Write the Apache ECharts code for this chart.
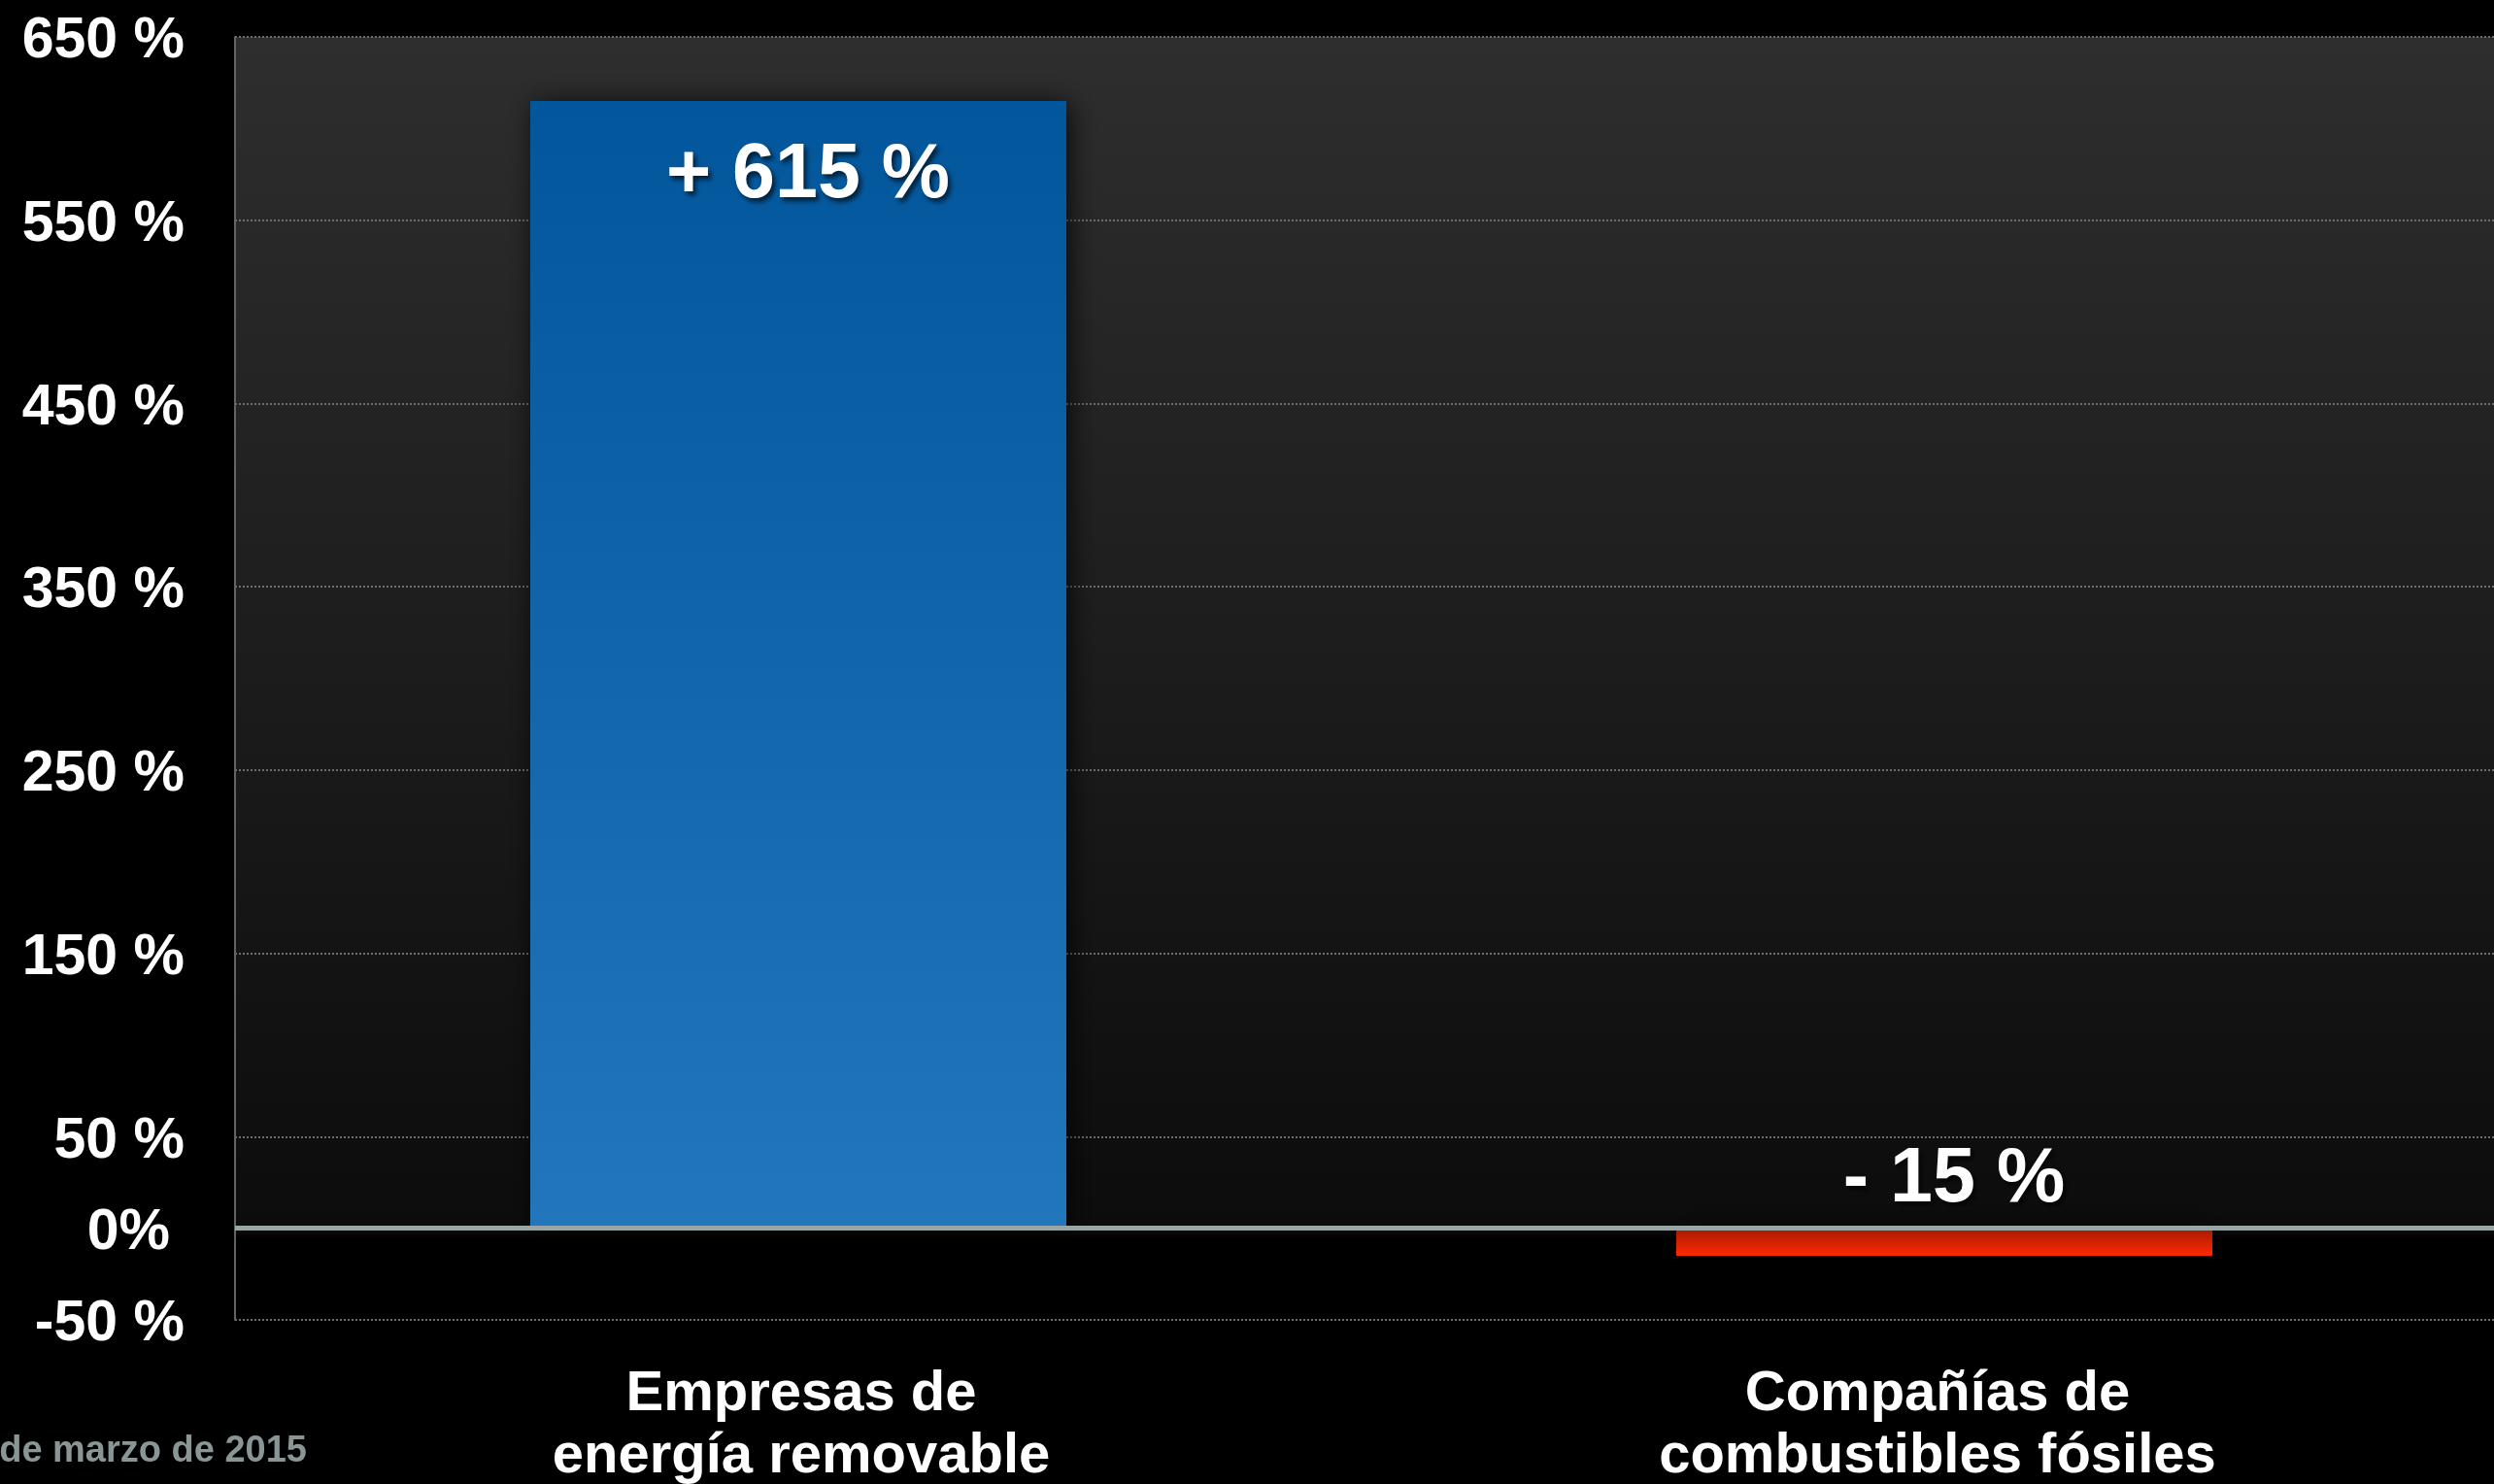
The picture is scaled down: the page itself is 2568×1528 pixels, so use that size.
<!DOCTYPE html>
<html>
<head>
<meta charset="utf-8">
<script src="https://cdn.jsdelivr.net/npm/echarts@6/dist/echarts.min.js"></script>
<style>
  html, body { margin: 0; padding: 0; background: #000; }
  #chart { width: 2568px; height: 1528px; }
</style>
</head>
<body>
<div id="chart"></div>
<script>
// Share-price change by company type
const categories = ['Empresas de\nenergía removable', 'Compañías de\ncombustibles fósiles'];
const changes = [615, -15];
const yTickLabels = [-50, 0, 50, 150, 250, 350, 450, 550, 650];
const footnote = 'de marzo de 2015';

const FONT = '"Liberation Sans", Arial, Helvetica, sans-serif';
const Y_MIN = -50, Y_MAX = 650;
const zeroFrac = Y_MAX / (Y_MAX - Y_MIN);

// category captions sit a little left of the band centre
const captionPadRight = [14, 34];

const barColors = [
  new echarts.graphic.LinearGradient(0, 0, 0, 1, [
    { offset: 0, color: '#02569b' },
    { offset: 1, color: '#2176bc' }
  ]),
  new echarts.graphic.LinearGradient(0, 0, 0, 1, [
    { offset: 0, color: '#a51a00' },
    { offset: 1, color: '#ff2900' }
  ])
];

function fmtChange(v) {
  return (v > 0 ? '+ ' : '- ') + Math.abs(v) + ' %';
}

const chart = echarts.init(document.getElementById('chart'), null, { renderer: 'canvas' });

chart.setOption({
  backgroundColor: '#000',
  animation: false,
  grid: {
    left: 242, top: 38, width: 2360, height: 1321,
    outerBoundsMode: 'none',
    containLabel: false,
    show: true,
    borderWidth: 0,
    backgroundColor: new echarts.graphic.LinearGradient(0, 0, 0, 1, [
      { offset: 0, color: '#2e2e2e' },
      { offset: zeroFrac, color: '#0c0c0c' },
      { offset: zeroFrac, color: '#101010' },
      { offset: zeroFrac + 0.008, color: '#000' },
      { offset: 1, color: '#000' }
    ])
  },
  xAxis: {
    type: 'category',
    data: categories.map((c, i) => ({
      value: c,
      textStyle: { padding: [0, captionPadRight[i], 0, 0] }
    })),
    axisLine: { show: false },
    axisTick: { show: false },
    axisLabel: {
      color: '#fff',
      fontFamily: FONT,
      fontWeight: 'bold',
      fontSize: 58,
      lineHeight: 64,
      margin: 45,
      interval: 0
    }
  },
  yAxis: {
    type: 'value',
    min: Y_MIN,
    max: Y_MAX,
    interval: 100,
    axisLine: { show: true, lineStyle: { color: '#5f6565', width: 2 } },
    axisTick: { show: false },
    splitLine: { show: true, lineStyle: { color: '#6a6e6e', width: 2, type: 'dotted' } },
    axisLabel: {
      customValues: yTickLabels,
      color: '#fff',
      fontFamily: FONT,
      fontWeight: 'bold',
      fontSize: 59,
      margin: 52,
      padding: [10, 0, 0, 0],
      formatter: v => v === 0 ? '{z|0%}' : v + ' %',
      rich: {
        z: { color: '#fff', fontFamily: FONT, fontWeight: 'bold', fontSize: 59, padding: [0, 15, 0, 0] }
      }
    }
  },
  series: [{
    type: 'bar',
    barWidth: 552,
    barGap: 0,
    data: changes.map((v, i) => ({
      value: v,
      itemStyle: {
        color: barColors[i],
        shadowColor: 'rgba(0,0,0,0.75)',
        shadowBlur: 26,
        shadowOffsetX: 4,
        shadowOffsetY: 2
      },
      label: v >= 0
        ? { position: 'insideTop', distance: 38 }
        : { position: 'top', distance: 10 }
    })),
    label: {
      show: true,
      formatter: p => fmtChange(p.value),
      color: '#fff',
      fontFamily: FONT,
      fontWeight: 'bold',
      fontSize: 79,
      offset: [10, 0],
      textShadowColor: 'rgba(0,0,0,0.65)',
      textShadowBlur: 5,
      textShadowOffsetX: 3,
      textShadowOffsetY: 4
    },
    markLine: {
      silent: true,
      symbol: 'none',
      label: { show: false },
      lineStyle: { color: '#9aa6a6', width: 5, type: 'solid' },
      data: [{ yAxis: 0 }]
    },
    z: 3
  }, {
    // empty slot beside each bar: keeps the bars slightly left of the band centre
    type: 'bar',
    barWidth: 20,
    silent: true,
    data: categories.map(() => null)
  }],
  graphic: [{
    type: 'text',
    x: 316,
    y: 1495,
    style: {
      text: footnote,
      fill: '#8a9696',
      font: 'bold 38px ' + FONT,
      align: 'right',
      verticalAlign: 'middle'
    }
  }]
});
</script>
</body>
</html>
